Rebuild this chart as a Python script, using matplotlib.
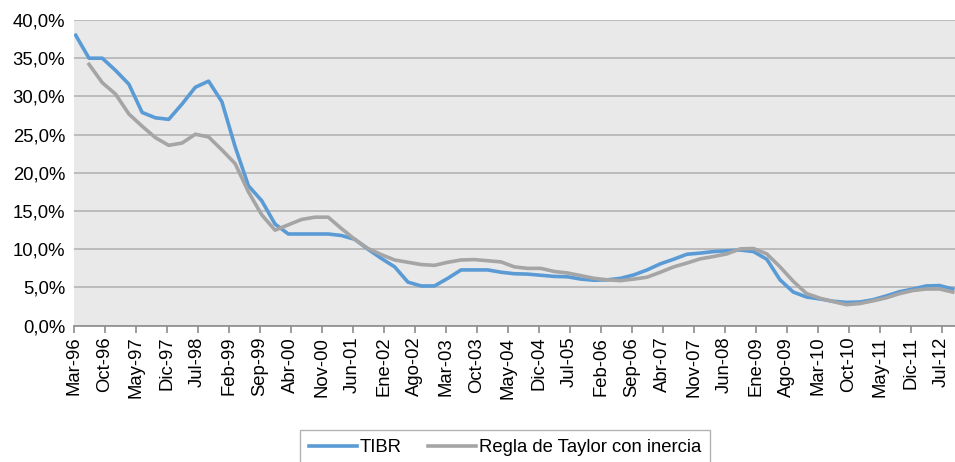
import matplotlib.pyplot as plt
import numpy as np

plt.rcParams['font.family'] = ['Liberation Sans', 'DejaVu Sans']

# quarterly data, Mar-96 .. Sep-12
tibr = [38.0, 35.0, 35.0, 33.4, 31.6, 27.9, 27.2, 27.0, 29.0, 31.2,
        32.0, 29.3, 23.4, 18.3, 16.35, 13.3, 12.0, 12.0, 12.0, 12.0,
        11.8, 11.3, 10.0, 8.8, 7.7, 5.7, 5.2, 5.2, 6.2, 7.3,
        7.3, 7.3, 7.0, 6.8, 6.75, 6.6, 6.45, 6.4, 6.1, 5.95,
        6.0, 6.2, 6.65, 7.3, 8.1, 8.7, 9.35, 9.5, 9.7, 9.8,
        9.9, 9.7, 8.7, 6.0, 4.4, 3.75, 3.5, 3.2, 3.05, 3.1,
        3.4, 3.9, 4.45, 4.8, 5.2, 5.25, 4.8]
taylor = [np.nan, 34.2, 31.8, 30.3, 27.7, 26.1, 24.6, 23.6, 23.9, 25.05,
          24.7, 23.0, 21.2, 17.5, 14.5, 12.5, 13.2, 13.9, 14.2, 14.2,
          12.7, 11.3, 10.1, 9.3, 8.6, 8.3, 8.0, 7.9, 8.3, 8.6,
          8.65, 8.5, 8.35, 7.7, 7.5, 7.5, 7.1, 6.9, 6.55, 6.2,
          6.0, 5.9, 6.1, 6.35, 7.0, 7.7, 8.2, 8.75, 9.05, 9.4,
          10.05, 10.1, 9.4, 7.7, 5.8, 4.2, 3.6, 3.15, 2.75, 2.9,
          3.25, 3.65, 4.2, 4.6, 4.8, 4.8, 4.4]
tick_labels = ['Mar-96', 'Oct-96', 'May-97', 'Dic-97', 'Jul-98', 'Feb-99', 'Sep-99',
               'Abr-00', 'Nov-00', 'Jun-01', 'Ene-02', 'Ago-02', 'Mar-03', 'Oct-03',
               'May-04', 'Dic-04', 'Jul-05', 'Feb-06', 'Sep-06', 'Abr-07', 'Nov-07',
               'Jun-08', 'Ene-09', 'Ago-09', 'Mar-10', 'Oct-10', 'May-11', 'Dic-11',
               'Jul-12']

# months since Mar-96, centred in each month
x = np.arange(len(tibr)) * 3 + 0.5

fig = plt.figure(figsize=(9.55, 4.62), dpi=100)
ax = fig.add_axes([73.5 / 955, 1 - 325.7 / 462, 1 - 73.5 / 955, (325.7 - 20) / 462])
ax.set_facecolor('#E9E9E9')

ax.plot(x, tibr, color='#5B9BD5', lw=2.6, label='TIBR', solid_joinstyle='round')
ax.plot(x, taylor, color='#A5A5A5', lw=2.6, label='Regla de Taylor con inercia',
        solid_joinstyle='round')

ax.set_xlim(0, 199)
ax.set_ylim(0, 40)
ax.set_yticks(np.arange(0, 41, 5))
ax.set_yticklabels([f'{v:.1f}%'.replace('.', ',') for v in np.arange(0, 41, 5)])
ax.set_xticks(np.arange(0, 197, 7))
ax.set_xticklabels(tick_labels, rotation=90)

ax.grid(axis='y', color='#B4B4B4', lw=1.2)
ax.set_axisbelow(True)
for s in ['top', 'right', 'left']:
    ax.spines[s].set_visible(False)
ax.spines['bottom'].set_color('#8C8C8C')
ax.spines['bottom'].set_linewidth(1.2)
ax.tick_params(axis='x', direction='out', length=5, width=1.2, color='#8C8C8C',
               labelsize=13.3, pad=3)
ax.tick_params(axis='y', length=0, labelsize=13.3, pad=6)

fig.legend(loc='upper center', bbox_to_anchor=(505 / 955, 1 - 430 / 462), ncol=2,
           frameon=True, fancybox=False, edgecolor='#A0A0A0', fontsize=13.3,
           handlelength=2.6, handletextpad=0.15, columnspacing=1.4,
           borderpad=0.5, borderaxespad=0)

plt.savefig('out.png', dpi=100)
